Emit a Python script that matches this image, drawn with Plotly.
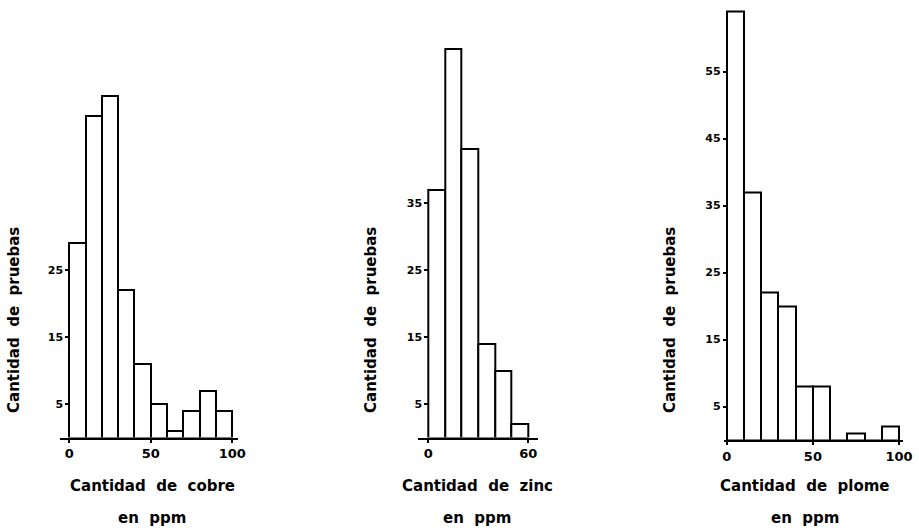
import plotly.graph_objects as go

W, H = 919, 530

# ---- data ----
cobre_edges = [0, 10, 20, 30, 40, 50, 60, 70, 80, 90]
cobre_counts = [29, 48, 51, 22, 11, 5, 1, 4, 7, 4]

zinc_edges = [0, 10, 20, 30, 40, 50]
zinc_counts = [37, 58, 43, 14, 10, 2]

plomo_edges = [0, 10, 20, 30, 40, 50, 60, 70, 80, 90]
plomo_counts = [64, 37, 22, 20, 8, 8, 0, 1, 0, 2]

bin_width = 10

cobre_xticks = [0, 50, 100]
zinc_xticks = [0, 60]
plomo_xticks = [0, 50, 100]

cobre_yticks = [5, 15, 25]
zinc_yticks = [5, 15, 25, 35]
plomo_yticks = [5, 15, 25, 35, 45, 55]

ytitle = "Cantidad de pruebas"
xtitles = ["Cantidad de cobre", "Cantidad de zinc", "Cantidad de plome"]
unit_text = "en ppm"

# ---- layout geometry (pixels) ----
px_per_unit = 6.7
ymax = 65

panels = [
    # (edges, counts, xticks, yticks, xrange, px_left, px_right, baseline_px)
    (cobre_edges, cobre_counts, cobre_xticks, cobre_yticks, [-5.7, 103.5], 60, 238, 437.5),
    (zinc_edges, zinc_counts, zinc_xticks, zinc_yticks, [-6, 66], 418.3, 538.3, 437.5),
    (plomo_edges, plomo_counts, plomo_xticks, plomo_yticks, [-1.6, 102.3], 724, 903, 440),
]

font_family = "DejaVu Sans"
fig = go.Figure()
layout = dict(
    width=W, height=H, autosize=False,
    margin=dict(l=0, r=0, t=0, b=0),
    plot_bgcolor="white", paper_bgcolor="white",
    showlegend=False, bargap=0,
    annotations=[],
)

for i, (edges, counts, xt, yt, xr, pl, pr, base) in enumerate(panels):
    n = "" if i == 0 else str(i + 1)
    xa, ya = "x" + n, "y" + n
    fig.add_trace(go.Bar(
        x=edges, y=counts, width=[bin_width] * len(edges), offset=0,
        marker=dict(color="white", line=dict(color="black", width=2)),
        xaxis=xa, yaxis=ya, hoverinfo="skip",
    ))
    d0, d1 = pl / W, pr / W
    ypos = d0 + (0 - xr[0]) / (xr[1] - xr[0]) * (d1 - d0)
    y_dom = [(H - base) / H, (H - (base - ymax * px_per_unit)) / H]
    layout["xaxis" + n] = dict(
        domain=[d0, d1], range=xr, anchor=ya, automargin=False,
        showline=True, linecolor="black", linewidth=2,
        showgrid=False, zeroline=False,
        tickvals=xt, ticktext=[str(v) for v in xt],
        ticks="outside", ticklen=3, tickwidth=2, tickcolor="black",
        tickfont=dict(family=font_family, size=13, color="black", weight="bold"),
    )
    layout["yaxis" + n] = dict(
        domain=y_dom, range=[0, ymax], anchor="free", position=ypos, automargin=False,
        showline=False, showgrid=False, zeroline=False,
        tickvals=yt, ticktext=[str(v) for v in yt],
        ticks="outside", ticklen=4, tickwidth=2, tickcolor="black",
        tickfont=dict(family=font_family, size=11, color="black", weight="bold"),
    )

title_font = dict(family=font_family, size=15, color="black", weight="bold")
ytitle_x = [14, 371, 670]
xtitle_x = [152, 477, 805]
for i in range(3):
    layout["annotations"].append(dict(
        text=ytitle.replace(" ", "\u00a0\u00a0"), x=ytitle_x[i] / W, y=(H - 320) / H,
        xref="paper", yref="paper", showarrow=False, textangle=-90,
        font=title_font, xanchor="center", yanchor="middle",
    ))
    layout["annotations"].append(dict(
        text=xtitles[i].replace(" ", "\u00a0\u00a0"), x=xtitle_x[i] / W, y=(H - 486) / H,
        xref="paper", yref="paper", showarrow=False,
        font=title_font, xanchor="center", yanchor="middle",
    ))
    layout["annotations"].append(dict(
        text=unit_text.replace(" ", "\u00a0\u00a0"), x=xtitle_x[i] / W, y=(H - 518) / H,
        xref="paper", yref="paper", showarrow=False,
        font=title_font, xanchor="center", yanchor="middle",
    ))

fig.update_layout(**layout)
fig.write_html(
    "out.html",
    config={"responsive": False, "displayModeBar": False},
    post_script="document.body.style.margin='0px';document.body.style.overflow='hidden';",
)
